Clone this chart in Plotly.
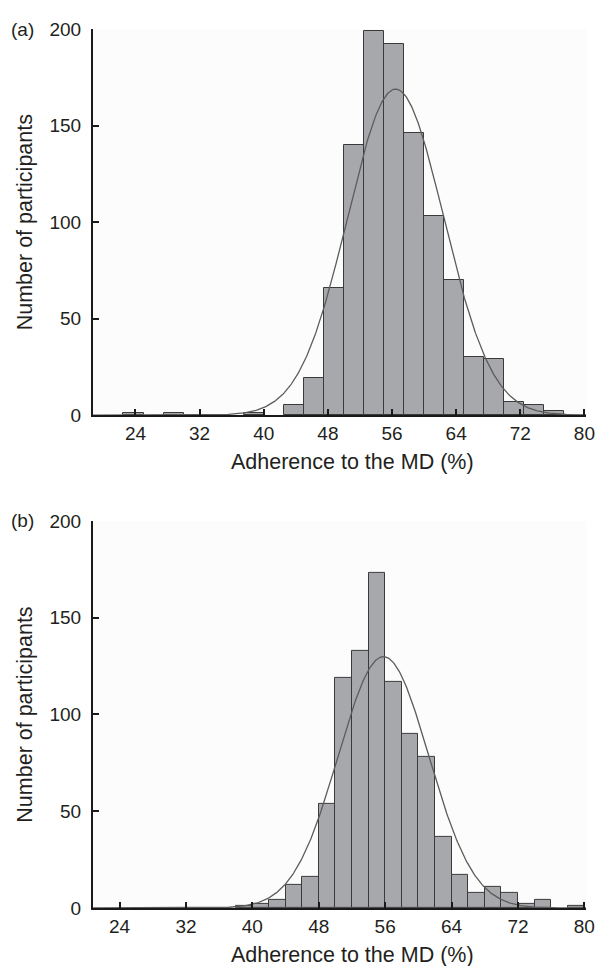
import numpy as np
import plotly.graph_objects as go

# Panel (a): bin width 2.5
bin_width_a = 2.5
bin_starts_a = [22.5, 27.5, 37.5, 42.5, 45.0, 47.5, 50.0, 52.5, 55.0, 57.5, 60.0,
                62.5, 65.0, 67.5, 70.0, 72.5, 75.0]
counts_a = [1, 1, 1, 5, 19, 66, 140, 199, 192, 146, 103, 70, 30, 29, 7, 5, 2]
fit_mean_a = 56.45
fit_sd_a = 6.0

# Panel (b): bin width 2
bin_width_b = 2.0
bin_starts_b = [38, 40, 42, 44, 46, 48, 50, 52, 54, 56, 58, 60, 62, 64, 66, 68,
                70, 72, 74, 78]
counts_b = [1, 2, 4, 12, 16, 54, 119, 133, 173, 117, 90, 78, 37, 17, 8, 11, 8, 2, 4, 1]
fit_mean_b = 55.8
fit_sd_b = 5.45

x_ticks = [24, 32, 40, 48, 56, 64, 72, 80]
y_ticks = [0, 50, 100, 150, 200]
x_title = "Adherence to the MD (%)"
y_title = "Number of participants"
panel_labels = ["(a)", "(b)"]

# The page adds an 8 px body margin; lay out in window pixels and shift.
OFF = 8
W, H = 606 - OFF, 966 - OFF
AX_L, AX_R = 93, 595          # window x of plot left/right
TOP_A, BOT_A = 27, 414        # window y of panel (a)
TOP_B, BOT_B = 520, 908       # window y of panel (b)
ML, MR = AX_L - OFF, W - (AX_R - OFF)
MT, MB = TOP_A - OFF, H - (BOT_B - OFF)
PW, PH = W - ML - MR, H - MT - MB

def py(pix):
    return (H - MB - (pix - OFF)) / PH

def px(pix):
    return ((pix - OFF) - ML) / PW

FONT = "Liberation Sans, Arial, sans-serif"
TXT = "#231f20"
BAR_FILL = "#a7a8ab"
BAR_LINE = "#3a3a3a"
CURVE = "#5c5c5c"

fig = go.Figure()

def add_panel(starts, counts, bw, mean, sd, xr, xa, ya):
    centers = [s + bw / 2 for s in starts]
    fig.add_trace(go.Bar(x=centers, y=counts, width=bw,
                         marker=dict(color=BAR_FILL, line=dict(color=BAR_LINE, width=1)),
                         xaxis=xa, yaxis=ya, showlegend=False, hoverinfo="x+y"))
    n = sum(counts)
    xs = np.linspace(xr[0], xr[1], 600)
    ys = n * bw / (sd * np.sqrt(2 * np.pi)) * np.exp(-0.5 * ((xs - mean) / sd) ** 2)
    fig.add_trace(go.Scatter(x=xs, y=ys, mode="lines",
                             line=dict(color=CURVE, width=1.3),
                             xaxis=xa, yaxis=ya, showlegend=False, hoverinfo="skip"))

xr_a = [18.7, 80.2]
xr_b = [20.8, 80.2]
add_panel(bin_starts_a, counts_a, bin_width_a, fit_mean_a, fit_sd_a, xr_a, "x", "y")
add_panel(bin_starts_b, counts_b, bin_width_b, fit_mean_b, fit_sd_b, xr_b, "x2", "y2")

axis_common = dict(showline=True, linecolor="#1a1a1a", linewidth=2,
                   ticks="inside", ticklen=6, tickwidth=2, tickcolor="#1a1a1a",
                   showgrid=False, zeroline=False,
                   tickfont=dict(family=FONT, size=19, color=TXT))
yaxis_extra = dict(ticklabelstandoff=6)

fig.update_layout(
    width=W, height=H,
    margin=dict(l=ML, r=MR, t=MT, b=MB),
    paper_bgcolor="white", plot_bgcolor="#fcfcfc",
    bargap=0, showlegend=False,
    font=dict(family=FONT, color=TXT),
    xaxis=dict(domain=[0, 1], range=xr_a, tickvals=x_ticks, anchor="y", **axis_common),
    yaxis=dict(domain=[py(BOT_A), 1], range=[0, 200], tickvals=y_ticks, anchor="x",
               **axis_common, **yaxis_extra),
    xaxis2=dict(domain=[0, 1], range=xr_b, tickvals=x_ticks, anchor="y2", **axis_common),
    yaxis2=dict(domain=[0, py(TOP_B)], range=[0, 200], tickvals=y_ticks, anchor="x2",
                **axis_common, **yaxis_extra),
)

ann = []
for yc in (461, 955):
    ann.append(dict(text=x_title, x=px(357), y=py(yc), xref="paper", yref="paper",
                    xanchor="center", yanchor="middle", showarrow=False,
                    font=dict(family=FONT, size=21.5, color=TXT)))
for yc in ((TOP_A + BOT_A) / 2, (TOP_B + BOT_B) / 2):
    ann.append(dict(text=y_title, x=px(24), y=py(yc), xref="paper", yref="paper",
                    xanchor="center", yanchor="middle", textangle=-90, showarrow=False,
                    font=dict(family=FONT, size=21.5, color=TXT)))
for lab, yc in zip(panel_labels, (TOP_A, TOP_B)):
    ann.append(dict(text=lab, x=px(21), y=py(yc), xref="paper", yref="paper",
                    xanchor="center", yanchor="middle", showarrow=False,
                    font=dict(family=FONT, size=19, color=TXT)))
fig.update_layout(annotations=ann)

fig.write_html("out.html")
